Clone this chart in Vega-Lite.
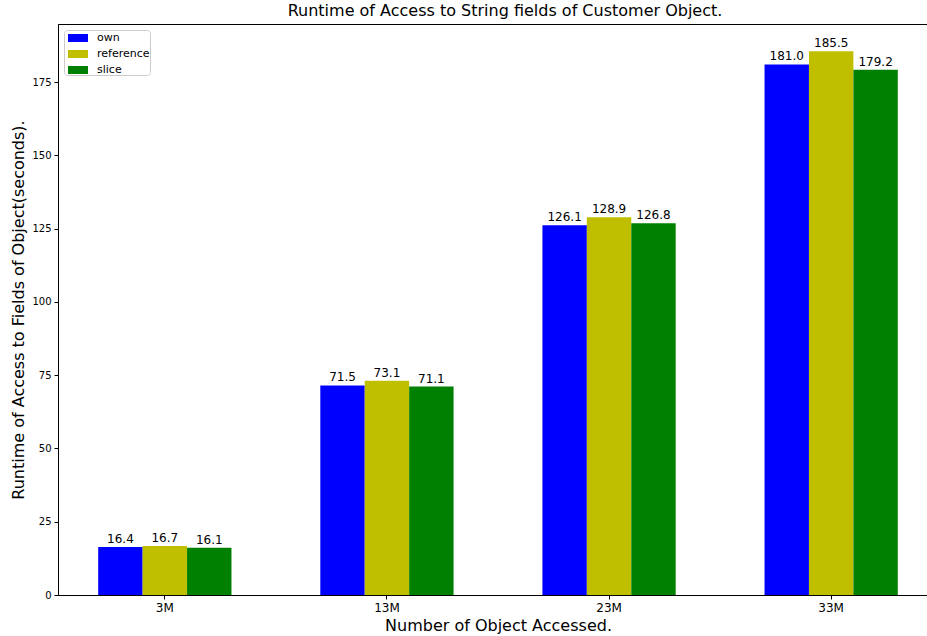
{
  "$schema": "https://vega.github.io/schema/vega-lite/v6.json",
  "autosize": "none",
  "width": 870,
  "height": 571,
  "padding": {"left": 58, "top": 24, "right": 0, "bottom": 41},
  "background": "white",
  "config": {
    "font": "DejaVu Sans",
    "view": {"stroke": "black", "strokeWidth": 1},
    "axis": {"grid": false, "domainColor": "black", "tickColor": "black", "labelColor": "black", "titleColor": "black", "labelFont": "DejaVu Sans", "titleFont": "DejaVu Sans", "titleFontWeight": "normal"}
  },
  "title": {"text": "Runtime of Access to String fields of Customer Object.", "fontSize": 16, "fontWeight": "normal", "font": "DejaVu Sans", "color": "black", "dx": 12, "offset": 5},
  "data": {"values": [
    {"group": "3M", "series": "own", "value": 16.4},
    {"group": "3M", "series": "reference", "value": 16.7},
    {"group": "3M", "series": "slice", "value": 16.1},
    {"group": "13M", "series": "own", "value": 71.5},
    {"group": "13M", "series": "reference", "value": 73.1},
    {"group": "13M", "series": "slice", "value": 71.1},
    {"group": "23M", "series": "own", "value": 126.1},
    {"group": "23M", "series": "reference", "value": 128.9},
    {"group": "23M", "series": "slice", "value": 126.8},
    {"group": "33M", "series": "own", "value": 181.0},
    {"group": "33M", "series": "reference", "value": 185.5},
    {"group": "33M", "series": "slice", "value": 179.2}
  ]},
  "encoding": {
    "x": {"field": "group", "type": "nominal", "sort": ["3M", "13M", "23M", "33M"],
      "scale": {"paddingInner": 0.4, "paddingOuter": 0.181, "range": [0, 880]},
      "axis": {"title": "Number of Object Accessed.", "titleFontSize": 16, "labelFontSize": 12, "labelAngle": 0, "tickSize": 4, "labelPadding": 3, "titleX": 440, "titleY": 30, "titleBaseline": "middle", "titleAnchor": "middle"}},
    "xOffset": {"field": "series", "type": "nominal", "scale": {"paddingInner": 0, "paddingOuter": 0}},
    "y": {"field": "value", "type": "quantitative",
      "scale": {"domain": [0, 194.8], "nice": false, "zero": true},
      "axis": {"title": "Runtime of Access to Fields of Object(seconds).", "titleFontSize": 16, "labelFontSize": 10, "values": [0, 25, 50, 75, 100, 125, 150, 175], "tickSize": 4, "labelPadding": 3, "titlePadding": 5}}
  },
  "layer": [
    {"mark": {"type": "bar"},
      "encoding": {
        "color": {"field": "series", "type": "nominal",
          "scale": {"domain": ["own", "reference", "slice"], "range": ["#0000ff", "#bfbf00", "#008000"]},
          "legend": {"title": null, "orient": "none", "legendX": 6, "legendY": 6, "padding": 0, "rowPadding": 3,
            "symbolType": "M-0.5,-0.5H2V0.5H-0.5Z", "symbolSize": 256, "symbolStrokeWidth": 0, "labelOffset": 17,
            "labelFontSize": 11, "labelFont": "DejaVu Sans", "labelColor": "black", "strokeColor": "#cccccc", "fillColor": "white", "cornerRadius": 3}}
      }},
    {"mark": {"type": "text", "baseline": "alphabetic", "dy": -4, "fontSize": 12, "font": "DejaVu Sans", "color": "black"},
      "encoding": {"text": {"field": "value", "type": "quantitative", "format": ".1f"}}}
  ]
}
